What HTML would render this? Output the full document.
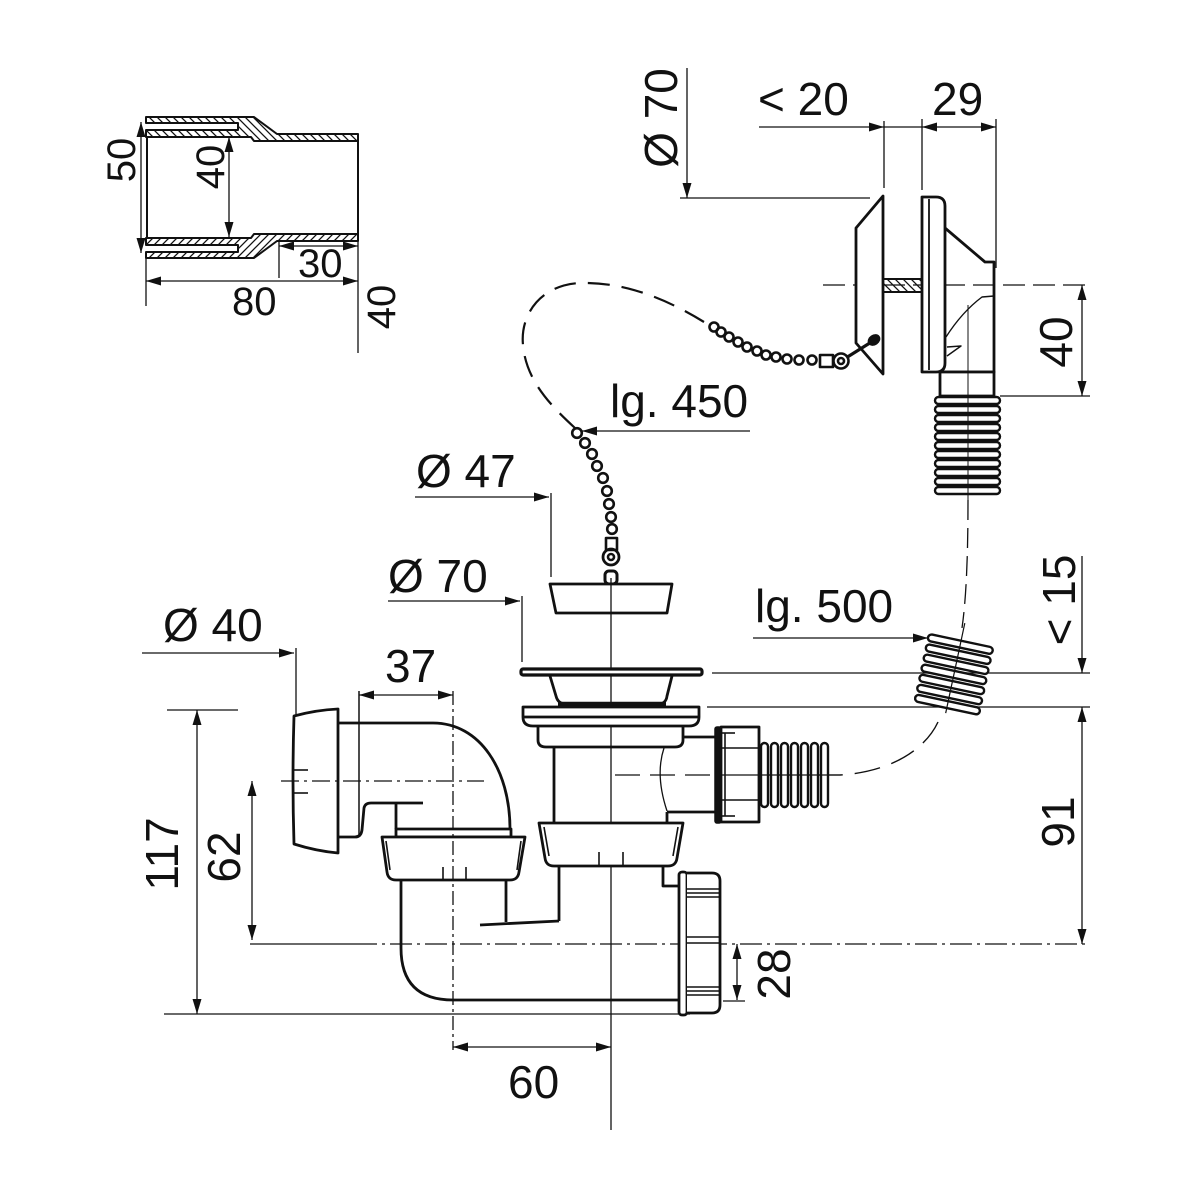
<!DOCTYPE html>
<html>
<head>
<meta charset="utf-8">
<style>
html,body{margin:0;padding:0;background:#fff;}
svg{display:block;}
text{font-family:"Liberation Sans",Arial,sans-serif;fill:#111;}
</style>
</head>
<body>
<svg width="1200" height="1200" viewBox="0 0 1200 1200" xmlns="http://www.w3.org/2000/svg">
<defs>
<marker id="ar" markerWidth="15" markerHeight="9" refX="15" refY="4.5" orient="auto-start-reverse" markerUnits="userSpaceOnUse">
<path d="M0,0 L15,4.5 L0,9 Z" fill="#111"/>
</marker>
<pattern id="hatch" width="8" height="8" patternUnits="userSpaceOnUse">
<path d="M-2,-2 L10,10 M-2,6 L2,10 M6,-2 L10,2" stroke="#111" stroke-width="1.3"/>
</pattern>
</defs>

<g fill="none" stroke="#111" stroke-linecap="butt" stroke-linejoin="round">

<!-- ============ ADAPTER (top-left) ============ -->
<g stroke-width="2">
<path d="M146,117 H254 L277,134 H358 V141 H254 L251,137 H146 V130 H238 V123 H146 Z" fill="url(#hatch)"/>
<g transform="translate(0,375) scale(1,-1)">
<path d="M146,117 H254 L277,134 H358 V141 H254 L251,137 H146 V130 H238 V123 H146 Z" fill="url(#hatch)"/>
</g>
<line x1="147" y1="137" x2="147" y2="238"/>
<line x1="358" y1="141" x2="358" y2="234"/>
</g>
<g stroke-width="1.3">
<line x1="141" y1="122" x2="141" y2="253" marker-start="url(#ar)" marker-end="url(#ar)"/>
<line x1="229" y1="137" x2="229" y2="237" marker-start="url(#ar)" marker-end="url(#ar)"/>
<line x1="279" y1="246" x2="358" y2="246" marker-start="url(#ar)" marker-end="url(#ar)"/>
<line x1="279" y1="242" x2="279" y2="278"/>
<line x1="146" y1="281" x2="358" y2="281" marker-start="url(#ar)" marker-end="url(#ar)"/>
<line x1="146" y1="253" x2="146" y2="306"/>
<line x1="358" y1="240" x2="358" y2="353"/>
</g>

<!-- ============ TOP RIGHT OVERFLOW ============ -->
<g stroke-width="1.3">
<line x1="687" y1="68" x2="687" y2="198" marker-end="url(#ar)"/>
<line x1="680" y1="198" x2="870" y2="198"/>
<line x1="759" y1="127" x2="884" y2="127" marker-end="url(#ar)"/>
<line x1="884" y1="127" x2="922" y2="127"/>
<line x1="922" y1="127" x2="996" y2="127" marker-start="url(#ar)" marker-end="url(#ar)"/>
<line x1="884" y1="121" x2="884" y2="188"/>
<line x1="922" y1="119" x2="922" y2="190"/>
<line x1="996" y1="119" x2="996" y2="268"/>
<line x1="823" y1="285" x2="1090" y2="285" stroke-dasharray="22 8"/>
<line x1="1000" y1="396" x2="1090" y2="396"/>
<line x1="1082" y1="285" x2="1082" y2="396" marker-start="url(#ar)" marker-end="url(#ar)"/>
</g>
<g stroke-width="2.8">
<path d="M883,196 L856,228 V343 L883,374 Z" fill="#fff"/>
<rect x="883" y="279" width="39" height="13" fill="url(#hatch)" stroke-width="2"/>
<path d="M922,197 H936 Q945,197 945,206 V363 Q945,372 936,372 H922 Z" fill="#fff"/>
<line x1="929" y1="199" x2="929" y2="370" stroke-width="1.8"/>
<path d="M945,228 L985,262 H994 V372 H940"/>
<rect x="940" y="372" width="54" height="24" fill="#fff"/>
</g>
<g stroke-width="1.4">
<path d="M946,337 Q962,312 982,297 L994,296"/>
<path d="M947,347 L961,346 L947,356"/>
</g>
<g stroke-width="2.4" fill="#fff">
<rect x="935" y="397" width="65" height="7" rx="3.5"/>
<rect x="935" y="406" width="65" height="7" rx="3.5"/>
<rect x="935" y="415" width="65" height="7" rx="3.5"/>
<rect x="935" y="424" width="65" height="7" rx="3.5"/>
<rect x="935" y="433" width="65" height="7" rx="3.5"/>
<rect x="935" y="442" width="65" height="7" rx="3.5"/>
<rect x="935" y="451" width="65" height="7" rx="3.5"/>
<rect x="935" y="460" width="65" height="7" rx="3.5"/>
<rect x="935" y="469" width="65" height="7" rx="3.5"/>
<rect x="935" y="478" width="65" height="7" rx="3.5"/>
<rect x="935" y="487" width="65" height="7" rx="3.5"/>
</g>
<line x1="968" y1="305" x2="968" y2="500" stroke-width="1"/>
<path d="M968,500 C968,560 966,600 962,628" stroke-width="1.3" stroke-dasharray="20 8"/>

<!-- chain upper -->
<g stroke-width="2.6">
<line x1="841" y1="361" x2="873" y2="341" stroke-width="3.2"/>
<ellipse cx="874" cy="340" rx="5.5" ry="4" transform="rotate(-35 874 340)" fill="#111"/>
<circle cx="841" cy="361" r="7.5" fill="#fff"/>
<circle cx="841" cy="361" r="3"/>
<rect x="820" y="355" width="13" height="12" fill="#fff"/>
<circle cx="812" cy="360" r="4.5"/>
<circle cx="799" cy="360" r="4.5"/>
<circle cx="787" cy="359" r="4.5"/>
<circle cx="776" cy="357" r="4.5"/>
<circle cx="766" cy="355" r="4.5"/>
<circle cx="757" cy="351" r="4.5"/>
<circle cx="747" cy="347" r="4.5"/>
<circle cx="738" cy="342" r="4.5"/>
<circle cx="729" cy="337" r="4.5"/>
<circle cx="721" cy="332" r="4.5"/>
<circle cx="714" cy="327" r="4.5"/>
</g>
<path d="M704,322 C660,295 620,282 580,283 C540,285 520,315 523,345 C526,380 550,405 575,428" stroke-width="2.2" stroke-dasharray="22 12"/>
<!-- chain lower -->
<g stroke-width="2.6">
<circle cx="577" cy="433" r="4.8"/>
<circle cx="585" cy="443" r="4.8"/>
<circle cx="592" cy="454" r="4.8"/>
<circle cx="597" cy="466" r="4.8"/>
<circle cx="603" cy="478" r="4.8"/>
<circle cx="607" cy="491" r="4.8"/>
<circle cx="609" cy="504" r="4.8"/>
<circle cx="611" cy="517" r="4.8"/>
<circle cx="612" cy="529" r="4.8"/>
<rect x="606" y="538" width="11" height="12" fill="#fff"/>
<circle cx="611" cy="557" r="8" stroke-width="2.8"/>
<circle cx="611" cy="557" r="3"/>
<rect x="605" y="571" width="12" height="13" rx="4" stroke-width="3"/>
</g>
<path d="M550,584 H672 L667,613 H556 Z" stroke-width="2.8" fill="#fff"/>

<!-- ============ DIMENSION LEADERS MIDDLE ============ -->
<g stroke-width="1.3">
<line x1="750" y1="431" x2="582" y2="431" marker-end="url(#ar)"/>
<line x1="415" y1="497" x2="549" y2="497" marker-end="url(#ar)"/>
<line x1="551" y1="493" x2="551" y2="577"/>
<line x1="388" y1="601" x2="520" y2="601" marker-end="url(#ar)"/>
<line x1="522" y1="596" x2="522" y2="662"/>
<line x1="142" y1="653" x2="294" y2="653" marker-end="url(#ar)"/>
<line x1="296" y1="648" x2="296" y2="716"/>
<line x1="753" y1="638" x2="928" y2="638" marker-end="url(#ar)"/>
<line x1="712" y1="673" x2="1090" y2="673"/>
<line x1="707" y1="707" x2="1090" y2="707"/>
<line x1="1082" y1="556" x2="1082" y2="673" marker-end="url(#ar)"/>
<line x1="1082" y1="707" x2="1082" y2="944" marker-start="url(#ar)" marker-end="url(#ar)"/>
<line x1="359" y1="695" x2="453" y2="695" marker-start="url(#ar)" marker-end="url(#ar)"/>
<line x1="167" y1="710" x2="238" y2="710"/>
<line x1="197" y1="710" x2="197" y2="1014" marker-start="url(#ar)" marker-end="url(#ar)"/>
<line x1="164" y1="1014" x2="690" y2="1014"/>
<line x1="252" y1="781" x2="252" y2="940" marker-start="url(#ar)" marker-end="url(#ar)"/>
<line x1="250" y1="944" x2="355" y2="944"/>
<line x1="355" y1="944" x2="1090" y2="944" stroke-dasharray="22 5 3 5"/>
<line x1="453" y1="1047" x2="611" y2="1047" marker-start="url(#ar)" marker-end="url(#ar)"/>
<line x1="737" y1="944" x2="737" y2="1000" marker-start="url(#ar)" marker-end="url(#ar)"/>
<line x1="723" y1="1001" x2="745" y2="1001"/>
<line x1="611" y1="578" x2="611" y2="1130"/>
<line x1="615" y1="775" x2="720" y2="775" stroke-dasharray="25 10"/>
<line x1="720" y1="775" x2="840" y2="775"/>
</g>
<path d="M938,722 C925,750 890,772 840,775" stroke-width="1.4" stroke-dasharray="26 12"/>

<!-- tilted hose -->
<g transform="translate(954,674) rotate(12)" stroke-width="2.4" fill="#fff">
<rect x="-33" y="-34" width="66" height="7" rx="3.5"/>
<rect x="-33" y="-23.7" width="66" height="7" rx="3.5"/>
<rect x="-33" y="-13.4" width="66" height="7" rx="3.5"/>
<rect x="-33" y="-3.1" width="66" height="7" rx="3.5"/>
<rect x="-33" y="7.2" width="66" height="7" rx="3.5"/>
<rect x="-33" y="17.5" width="66" height="7" rx="3.5"/>
<rect x="-33" y="27.8" width="66" height="7" rx="3.5"/>
<line x1="0" y1="-52" x2="0" y2="40" stroke-width="1.2"/>
</g>

<!-- ============ DRAIN BODY ============ -->
<g stroke-width="2.8">
<rect x="521" y="669" width="181" height="6" rx="2" fill="#fff" stroke-width="3.2"/>
<path d="M550,676 L556,696 Q558,704 566,704 H658 Q666,704 667,696 L672,676"/>
<line x1="558" y1="704" x2="666" y2="704" stroke-width="4.5"/>
<path d="M523,707 H699 V717 Q699,726 689,726 H533 Q523,726 523,717 Z" fill="#fff"/>
<line x1="523" y1="717" x2="699" y2="717"/>
<path d="M538,726 V740 Q538,747 546,747 H675 Q683,747 683,740 V726"/>
<line x1="554" y1="747" x2="554" y2="823"/>
<path d="M683,737 H715"/>
<path d="M667,812 H715"/>
<line x1="667" y1="812" x2="667" y2="823"/>
<path d="M664,748 Q655,775 667,811" stroke-width="1.3"/>
<!-- outlet flange + nut -->
<rect x="715" y="727" width="6" height="96" rx="2" fill="#111" stroke-width="1.5"/>
<rect x="721" y="727" width="38" height="95" fill="#fff"/>
<g stroke-width="1.6">
<line x1="721" y1="733" x2="735" y2="733"/>
<line x1="721" y1="748" x2="759" y2="748"/>
<line x1="721" y1="800" x2="759" y2="800"/>
<line x1="721" y1="816" x2="735" y2="816"/>
<line x1="725" y1="733" x2="725" y2="816"/>
</g>
<!-- hose horizontal -->
<g stroke-width="2.4" fill="#fff">
<rect x="761" y="743" width="7" height="64" rx="3.5"/>
<rect x="771" y="743" width="7" height="64" rx="3.5"/>
<rect x="781" y="743" width="7" height="64" rx="3.5"/>
<rect x="791" y="743" width="7" height="64" rx="3.5"/>
<rect x="801" y="743" width="7" height="64" rx="3.5"/>
<rect x="811" y="743" width="7" height="64" rx="3.5"/>
<rect x="821" y="743" width="7" height="64" rx="3.5"/>
</g>
<line x1="721" y1="775" x2="840" y2="775" stroke-width="1.2"/>
<!-- lower nut -->
<path d="M539,823 H683 L677,858 Q676,866 668,866 H554 Q546,866 545,858 Z" fill="#fff"/>
<line x1="544" y1="827" x2="549" y2="856" stroke-width="1.6"/>
<line x1="678" y1="827" x2="673" y2="856" stroke-width="1.6"/>
<line x1="599" y1="852" x2="599" y2="866" stroke-width="1.6"/>
<line x1="623" y1="852" x2="623" y2="866" stroke-width="1.6"/>
<line x1="559" y1="866" x2="559" y2="921"/>
<line x1="480" y1="925" x2="559" y2="921"/>
<path d="M663,866 V886 H680"/>
<!-- bottom outlet nut -->
<rect x="679" y="872" width="8" height="143" rx="3" fill="#fff"/>
<path d="M687,873 H712 Q720,873 720,881 V1005 Q720,1013 712,1013 H687" fill="#fff"/>
<g stroke-width="1.5">
<line x1="687" y1="889" x2="720" y2="889"/>
<line x1="687" y1="893" x2="720" y2="893"/>
<line x1="687" y1="897" x2="720" y2="897"/>
<line x1="687" y1="937" x2="720" y2="937"/>
<line x1="687" y1="943" x2="720" y2="943"/>
<line x1="687" y1="987" x2="720" y2="987"/>
<line x1="687" y1="991" x2="720" y2="991"/>
<line x1="687" y1="995" x2="720" y2="995"/>
</g>
<!-- trap -->
<path d="M401,880 V948 Q401,1000 453,1000 H680"/>
<line x1="506" y1="880" x2="506" y2="922"/>
</g>

<!-- ============ LEFT ELBOW ============ -->
<g stroke-width="2.8">
<path d="M294,716 Q316,710 338,709 V853 Q316,851 294,844 Q292,780 294,716 Z" fill="#fff"/>
<line x1="294" y1="770" x2="308" y2="770" stroke-width="1.6"/>
<line x1="294" y1="793" x2="308" y2="793" stroke-width="1.6"/>
<path d="M338,723 H433 C480,723 510,770 510,829"/>
<path d="M338,837 H355 Q361,837 362,830 L364,808 Q365,803 371,803 H423"/>
<line x1="396" y1="803" x2="396" y2="829"/>
<path d="M396,829 H511 V837 H396 Z" fill="#fff"/>
<path d="M382,837 H525 L519,872 Q518,880 510,880 H396 Q388,880 387,872 Z" fill="#fff"/>
<line x1="386" y1="841" x2="390" y2="870" stroke-width="1.6"/>
<line x1="521" y1="841" x2="517" y2="870" stroke-width="1.6"/>
<line x1="443" y1="867" x2="443" y2="880" stroke-width="1.6"/>
<line x1="466" y1="867" x2="466" y2="880" stroke-width="1.6"/>
</g>
<line x1="359" y1="691" x2="359" y2="835" stroke="#111" stroke-width="1.5"/>
<line x1="453" y1="691" x2="453" y2="1050" stroke="#111" stroke-width="1.3" stroke-dasharray="14 4 3 4"/>
<line x1="281" y1="781" x2="484" y2="781" stroke="#111" stroke-width="1.3" stroke-dasharray="18 5 3 5"/>
</g>

<!-- ============ TEXT ============ -->
<g font-size="40">
<text transform="translate(135,160) rotate(-90)" text-anchor="middle">50</text>
<text transform="translate(224,167) rotate(-90)" text-anchor="middle">40</text>
<text x="298" y="277">30</text>
<text x="232" y="315">80</text>
<text transform="translate(395,307) rotate(-90)" text-anchor="middle">40</text>
</g>
<g font-size="46">
<text transform="translate(677,118) rotate(-90)" text-anchor="middle">Ø 70</text>
<text x="758" y="115">&lt; 20</text>
<text x="932" y="115">29</text>
<text transform="translate(1072,342) rotate(-90)" text-anchor="middle">40</text>
<text x="610" y="417">lg. 450</text>
<text x="416" y="487">Ø 47</text>
<text x="388" y="592">Ø 70</text>
<text x="755" y="622">lg. 500</text>
<text transform="translate(1075,600) rotate(-90)" text-anchor="middle">&lt; 15</text>
<text x="163" y="641">Ø 40</text>
<text x="385" y="682">37</text>
<text transform="translate(1074,822) rotate(-90)" text-anchor="middle">91</text>
<text transform="translate(178,854) rotate(-90)" text-anchor="middle">117</text>
<text transform="translate(240,857) rotate(-90)" text-anchor="middle">62</text>
<text transform="translate(790,974) rotate(-90)" text-anchor="middle">28</text>
<text x="508" y="1098">60</text>
</g>
</svg>
</body>
</html>
